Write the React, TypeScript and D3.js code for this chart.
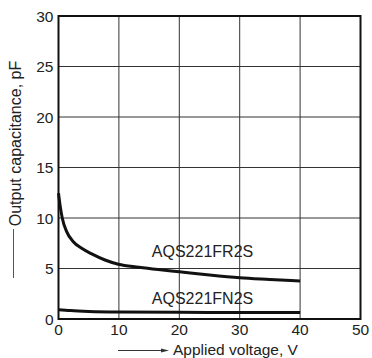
import React from "react";
import * as d3 from "d3";

const xTicks = [0, 10, 20, 30, 40, 50];
const yTicks = [0, 5, 10, 15, 20, 25, 30];

const fr2sV = [0, 0.25, 0.63, 1.35, 2.45, 3.84, 5.5, 7.7, 9.9, 13.3, 16.5, 20, 25, 30, 35, 40];
const fr2sC = [12.45, 11.3, 9.97, 8.65, 7.65, 7.0, 6.44, 5.84, 5.42, 5.13, 4.9, 4.68, 4.36, 4.09, 3.92, 3.76];

const fn2sV = [0, 2, 5, 10, 20, 30, 40];
const fn2sC = [0.92, 0.83, 0.75, 0.69, 0.66, 0.65, 0.65];

const seriesLabels = ["AQS221FR2S", "AQS221FN2S"];
const labelPos = [
  { v: 15.45, c: 6.15 },
  { v: 15.45, c: 1.46 },
];

export default function App() {
  const W = 372, H = 358;
  const left = 58.5, right = 360.5, top = 16, bottom = 319;
  const x = d3.scaleLinear().domain([0, 50]).range([left, right]);
  const y = d3.scaleLinear().domain([0, 30]).range([bottom, top]);
  const line = d3
    .line<[number, number]>()
    .x((d) => x(d[0]))
    .y((d) => y(d[1]))
    .curve(d3.curveMonotoneX);
  const fr = fr2sV.map((v, i) => [v, fr2sC[i]] as [number, number]);
  const fn = fn2sV.map((v, i) => [v, fn2sC[i]] as [number, number]);
  const font = "'Liberation Sans', Arial, Helvetica, sans-serif";

  return (
    <svg
      width={W}
      height={H}
      style={{ position: "absolute", left: 0, top: 0, background: "#fff" }}
      fontFamily={font}
    >
      {xTicks.slice(1, -1).map((t) => (
        <line key={"gx" + t} x1={x(t)} x2={x(t)} y1={top} y2={bottom} stroke="#333" strokeWidth={1} />
      ))}
      {yTicks.slice(1, -1).map((t) => (
        <line key={"gy" + t} x1={left} x2={right} y1={y(t)} y2={y(t)} stroke="#333" strokeWidth={1} />
      ))}
      <rect x={left} y={top} width={right - left} height={bottom - top} fill="none" stroke="#111" strokeWidth={2} />
      <path d={line(fr) || ""} fill="none" stroke="#111" strokeWidth={3} strokeLinecap="butt" />
      <path d={line(fn) || ""} fill="none" stroke="#111" strokeWidth={3} strokeLinecap="butt" />
      {seriesLabels.map((s, i) => (
        <text key={s} x={x(labelPos[i].v)} y={y(labelPos[i].c)} fontSize={16} fill="#222">
          {s}
        </text>
      ))}
      {yTicks.map((t) => (
        <text key={"yt" + t} x={left - 5} y={y(t) + 5.5} textAnchor="end" fontSize={15.5} fill="#222">
          {t}
        </text>
      ))}
      {xTicks.map((t) => (
        <text key={"xt" + t} x={x(t)} y={bottom + 16} textAnchor="middle" fontSize={15.5} fill="#222">
          {t}
        </text>
      ))}
      <line x1={118} x2={164} y1={350.5} y2={350.5} stroke="#333" strokeWidth={1} />
      <path d="M 169 350.5 L 161 348.5 L 161 352.5 Z" fill="#333" />
      <text x={173} y={354.5} fontSize={15.5} fill="#222">
        Applied voltage, V
      </text>
      <line x1={13.5} x2={13.5} y1={229} y2={278} stroke="#555" strokeWidth={1} />
      <text
        transform={`translate(21, ${143.5}) rotate(-90)`}
        textAnchor="middle"
        fontSize={16}
        fill="#222"
      >
        Output capacitance, pF
      </text>
    </svg>
  );
}
